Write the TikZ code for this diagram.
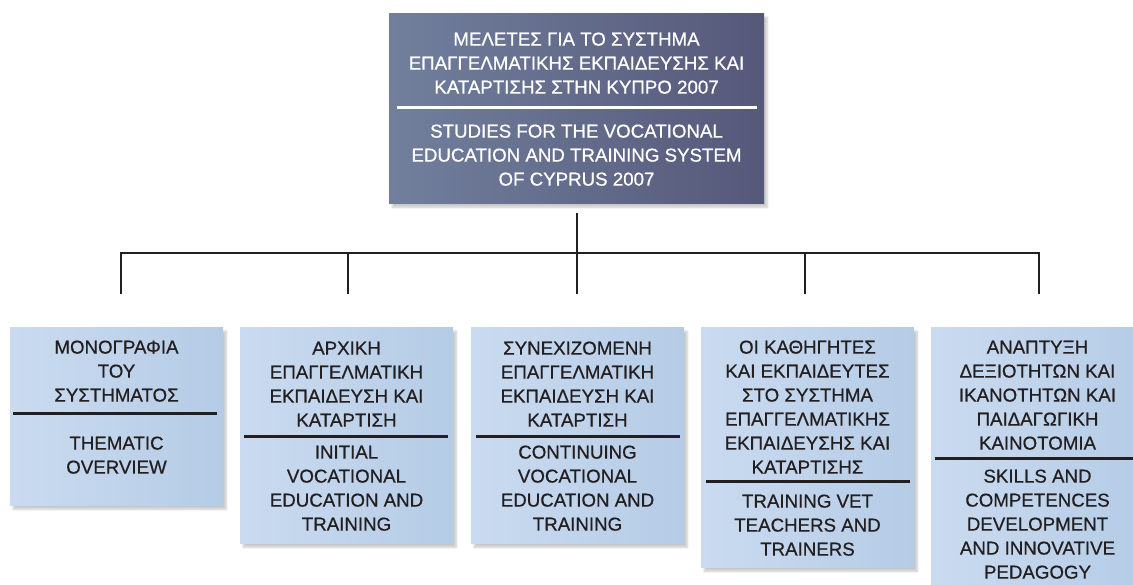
\documentclass[tikz,border=0pt]{standalone}
\usepackage{fontspec}
\setmainfont{Liberation Sans}
\newfontfamily\midfont{Liberation Sans}[FakeBold=0.6]
\usetikzlibrary{shadows.blur}

\definecolor{topL}{HTML}{717F9D}
\definecolor{topR}{HTML}{56587A}
\definecolor{boxL}{HTML}{CADBF0}
\definecolor{boxR}{HTML}{B5CCE6}
\definecolor{ink}{HTML}{231F20}

\begin{document}
\begin{tikzpicture}[x=1pt,y=-1pt,
  head/.style={shape=rectangle,inner sep=0pt,anchor=north west,left color=topL,right color=topR,minimum width=375pt,minimum height=190pt,blur shadow={shadow xshift=3pt,shadow yshift=-4pt,shadow opacity=22,shadow blur steps=6}},
  study/.style={head,left color=boxL,right color=boxR,minimum width=213pt},
  txt/.style={align=center,anchor=base,inner sep=0pt,font=\midfont\fontsize{18.7}{24}\selectfont,text=ink},
  txtW/.style={txt,text=white},
  sep/.style={line width=3pt,draw=ink},
  link/.style={line width=2.6pt,draw=ink}]
\def\by{327};
\def\bw{213};

\useasboundingbox (0,0) rectangle (1133,585);

\node[head] (top) at (389,13) {};
\node[txtW] (topGr) at (576.5,93.6) {ΜΕΛΕΤΕΣ ΓΙΑ ΤΟ ΣΥΣΤΗΜΑ\\ΕΠΑΓΓΕΛΜΑΤΙΚΗΣ ΕΚΠΑΙΔΕΥΣΗΣ ΚΑΙ\\ΚΑΤΑΡΤΙΣΗΣ ΣΤΗΝ ΚΥΠΡΟ 2007};
\draw[sep,draw=white] (397,108) -- (757,108);
\node[txtW] (topEn) at (576.5,185.6) {STUDIES FOR THE VOCATIONAL\\EDUCATION AND TRAINING SYSTEM\\OF CYPRUS 2007};

\node[study,minimum height=178pt] (b1) at (10,\by) {};
\node[txt] (b1Gr) at (116.5,401.6) {ΜΟΝΟΓΡΑΦΙΑ\\ΤΟΥ\\ΣΥΣΤΗΜΑΤΟΣ};
\draw[sep] (13,413) -- (217,413);
\node[txt] (b1En) at (116.5,473.6) {THEMATIC\\OVERVIEW};

\node[study,minimum height=216pt] (b2) at (240,\by) {};
\node[txt] (b2Gr) at (346.5,426.6) {ΑΡΧΙΚΗ\\ΕΠΑΓΓΕΛΜΑΤΙΚΗ\\ΕΚΠΑΙΔΕΥΣΗ ΚΑΙ\\ΚΑΤΑΡΤΙΣΗ};
\draw[sep] (244,436) -- (448,436);
\node[txt] (b2En) at (346.5,530.6) {INITIAL\\VOCATIONAL\\EDUCATION AND\\TRAINING};

\node[study,minimum height=216pt] (b3) at (471,\by) {};
\node[txt] (b3Gr) at (577.5,426.6) {ΣΥΝΕΧΙΖΟΜΕΝΗ\\ΕΠΑΓΓΕΛΜΑΤΙΚΗ\\ΕΚΠΑΙΔΕΥΣΗ ΚΑΙ\\ΚΑΤΑΡΤΙΣΗ};
\draw[sep] (476,436) -- (680,436);
\node[txt] (b3En) at (577.5,530.6) {CONTINUING\\VOCATIONAL\\EDUCATION AND\\TRAINING};

\node[study,minimum height=240pt] (b4) at (701,\by) {};
\node[txt] (b4Gr) at (807.5,473.6) {ΟΙ ΚΑΘΗΓΗΤΕΣ\\ΚΑΙ ΕΚΠΑΙΔΕΥΤΕΣ\\ΣΤΟ ΣΥΣΤΗΜΑ\\ΕΠΑΓΓΕΛΜΑΤΙΚΗΣ\\ΕΚΠΑΙΔΕΥΣΗΣ ΚΑΙ\\ΚΑΤΑΡΤΙΣΗΣ};
\draw[sep] (706,481) -- (910,481);
\node[txt] (b4En) at (807.5,555.6) {TRAINING VET\\TEACHERS AND\\TRAINERS};

\node[study,minimum height=275pt] (b5) at (931,\by) {};
\node[txt] (b5Gr) at (1037.5,449.6) {ΑΝΑΠΤΥΞΗ\\ΔΕΞΙΟΤΗΤΩΝ ΚΑΙ\\ΙΚΑΝΟΤΗΤΩΝ ΚΑΙ\\ΠΑΙΔΑΓΩΓΙΚΗ\\ΚΑΙΝΟΤΟΜΙΑ};
\draw[sep] (935,458) -- (1140,458);
\node[txt] (b5En) at (1037.5,578.6) {SKILLS AND\\COMPETENCES\\DEVELOPMENT\\AND INNOVATIVE\\PEDAGOGY};

% connectors
\coordinate (stem) at (577,213);
\foreach \i/\x in {1/121,2/348,3/577,4/805,5/1039}{
  \coordinate (j\i) at (\x,253);
  \coordinate (d\i) at (\x,294);
}
\draw[link] (stem) -- (j3);
\draw[link] (d1) -- (j1) -- (j5) -- (d5);
\foreach \i in {2,3,4}
  \draw[link] (j\i) -- (d\i);

\end{tikzpicture}
\end{document}
